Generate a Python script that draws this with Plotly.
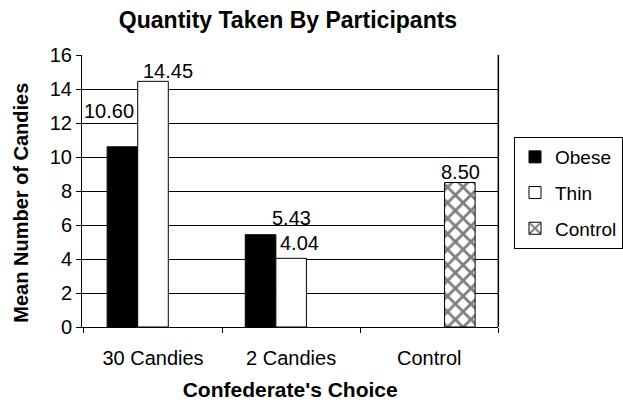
import plotly.graph_objects as go

categories = ["30 Candies", "2 Candies", "Control"]
obese = [10.60, 5.43, None]
thin = [14.45, 4.04, None]
control = [None, None, 8.50]
y_ticks = [0, 2, 4, 6, 8, 10, 12, 14, 16]

font = "Liberation Sans, Arial, sans-serif"
W, H = 623, 402
L, R_PLOT, T, B = 82, 503, 55, 75   # plot area: x from L to R_PLOT, top T, bottom margin B
paper_w = W - L

fig = go.Figure()
fig.add_trace(go.Bar(
    name="Obese", x=categories, y=obese, legendgroup="a",
    marker=dict(color="black", line=dict(color="black", width=1)),
))
fig.add_trace(go.Bar(
    name="Thin", x=categories, y=thin, legendgroup="b",
    marker=dict(color="white", line=dict(color="black", width=1)),
))
fig.add_trace(go.Bar(
    name="Control", x=categories, y=control, legendgroup="c",
    marker=dict(color="white", line=dict(color="black", width=1),
                pattern=dict(shape="x", fgcolor="black", bgcolor="white", size=11, solidity=0.45)),
))

# value labels (Excel-style, manually offset)
label_offsets = {  # (series, category index): (xshift, yshift)
    ("obese", 0): (-44, 36), ("thin", 0): (15, 10),
    ("obese", 1): (0, 17), ("thin", 1): (8, 15),
    ("control", 2): (31, 11),
}
series = {"obese": obese, "thin": thin, "control": control}
for (name, i), (dx, dy) in label_offsets.items():
    v = series[name][i]
    fig.add_annotation(x=categories[i], y=v, xref="x", yref="y", text=f"{v:.2f}",
                       showarrow=False, xshift=dx, yshift=dy, xanchor="center", yanchor="middle",
                       font=dict(family=font, size=20, color="black"))

fig.update_layout(
    width=W, height=H,
    margin=dict(l=L, r=0, t=T, b=B),
    paper_bgcolor="white", plot_bgcolor="white",
    barmode="group", bargap=0.336, bargroupgap=0,
    font=dict(family=font, size=20, color="black"),
    title=dict(text="<b>Quantity Taken By Participants</b>", x=288 / W, xanchor="center",
               y=1 - 20 / H, yanchor="middle", font=dict(family=font, size=23, color="black")),
    showlegend=True,
    legend=dict(x=(519 - L) / paper_w, xanchor="left", y=(H - B - 137) / (H - T - B), yanchor="top",
                bordercolor="black", borderwidth=1, bgcolor="white",
                font=dict(family=font, size=19, color="black"),
                itemwidth=30, tracegroupgap=8, traceorder="grouped"),
    yaxis=dict(range=[0, 16], tickvals=y_ticks, showgrid=True, gridcolor="black", gridwidth=1,
               showline=True, linecolor="black", linewidth=1, ticks="outside", ticklen=5,
               tickcolor="black", zeroline=False, automargin=False,
               tickfont=dict(family=font, size=20)),
    xaxis=dict(domain=[0, (R_PLOT - L) / paper_w],
               showline=True, linecolor="black", linewidth=1, ticks="outside", ticklen=5,
               tickcolor="black", tickson="boundaries", showgrid=False, automargin=False,
               ticklabelstandoff=13,
               title=dict(text="<b>Confederate's Choice</b>", font=dict(family=font, size=21), standoff=14),
               tickfont=dict(family=font, size=20)),
)

# y-axis title
fig.add_annotation(xref="paper", yref="paper", x=(20 - L) / paper_w, y=(H - B - 203) / (H - T - B),
                   text="<b>Mean Number of Candies</b>",
                   textangle=-90, showarrow=False, xanchor="center", yanchor="middle",
                   font=dict(family=font, size=20, color="black"))

# right border of plot area
fig.add_shape(type="line", xref="x domain", yref="y domain", x0=1, x1=1, y0=0, y1=1,
              line=dict(color="black", width=1.5))

fig.write_html("out.html", config={"displayModeBar": False},
               post_script="document.body.style.margin='0';document.body.style.padding='0';")
